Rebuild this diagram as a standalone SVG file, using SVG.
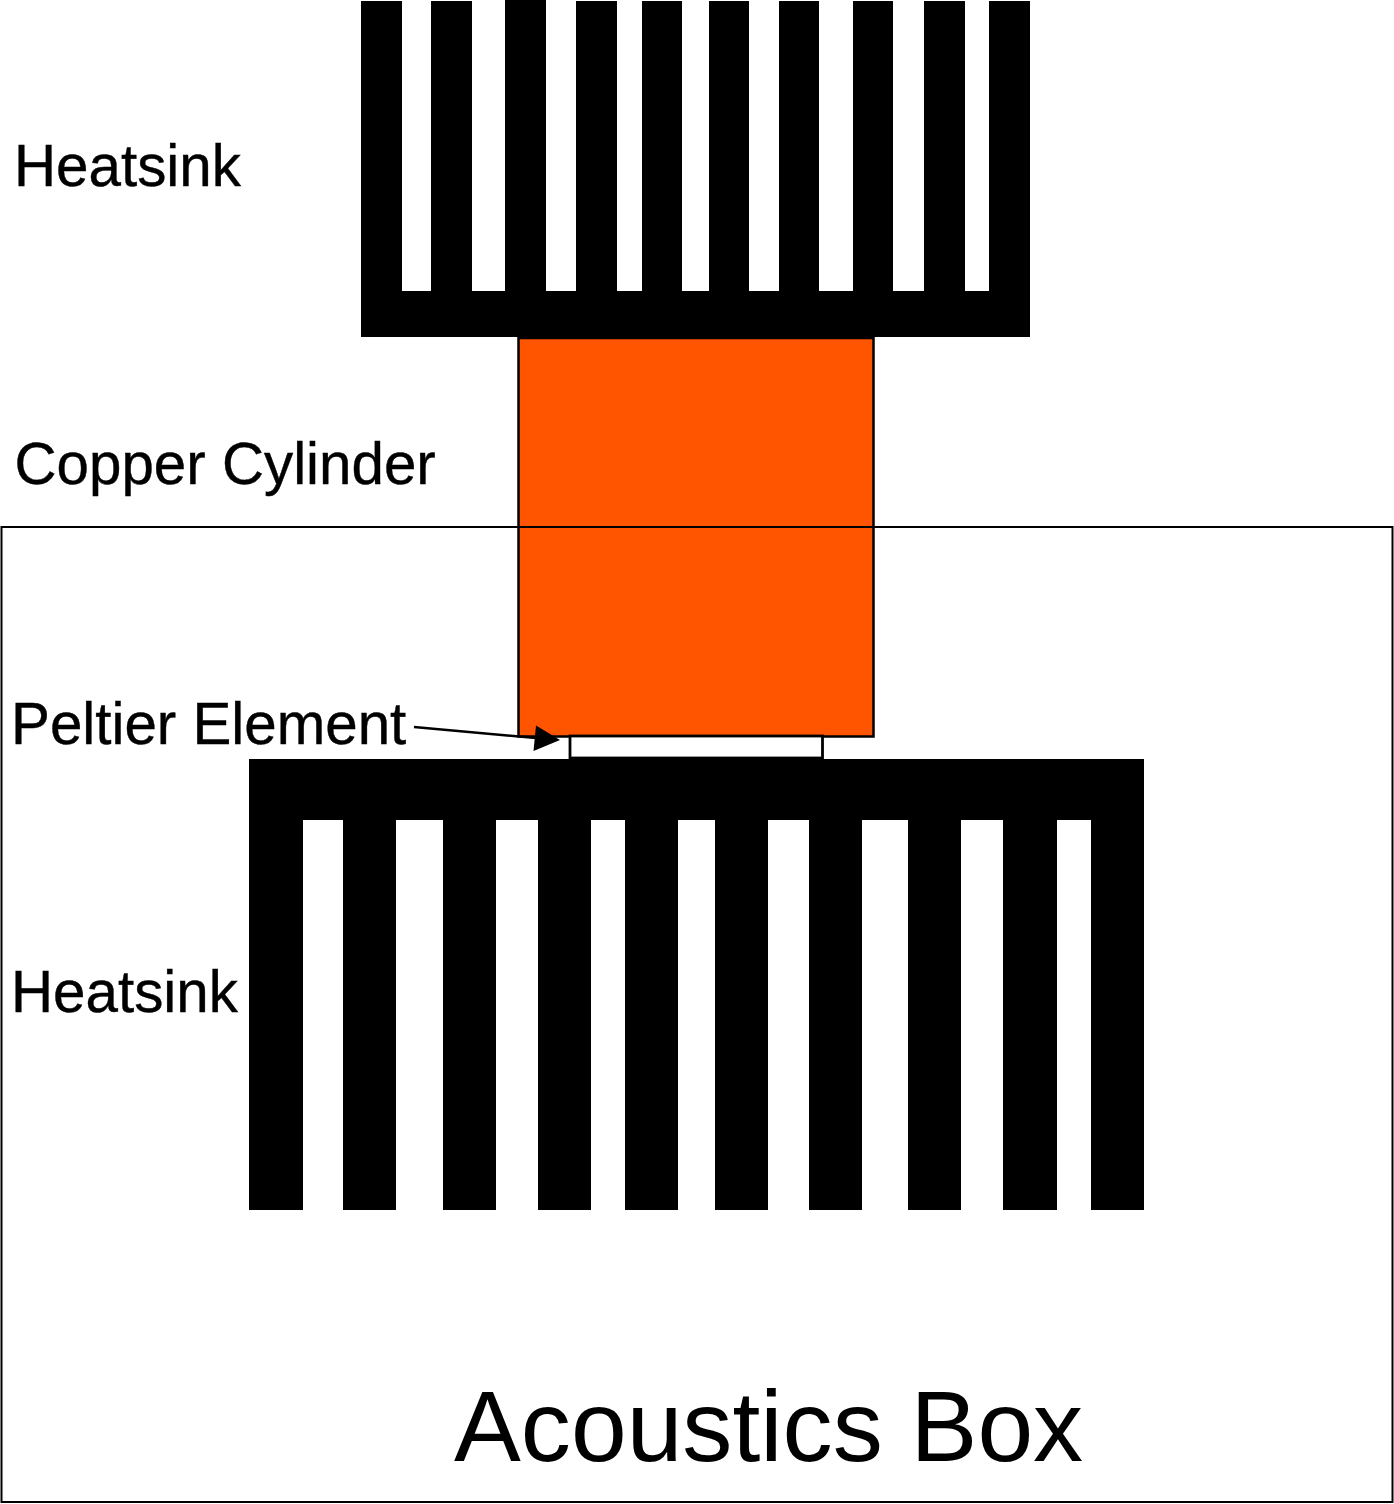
<svg xmlns="http://www.w3.org/2000/svg" width="1394" height="1504" viewBox="0 0 1394 1504">
<style>
.l{font-family:"Liberation Sans",Arial,sans-serif;font-size:58.300px;fill:#000;stroke:#000;stroke-width:.4}
.k{fill:#000}
.o{fill:none;stroke:#000;stroke-width:2}
</style>
<rect width="1394" height="1504" fill="#fff"/>
<g id="acoustics-box"><rect class="o" x="1.500" y="527" width="1391" height="975"/>
<text x="454" y="1461" style="font-family:'Liberation Sans',Arial,sans-serif;font-size:100.200px">Acoustics Box</text></g>
<g id="top-heatsink" class="k">
<rect x="361" y="291" width="669" height="46"/>
<rect x="361" y="1" width="41" height="291"/><rect x="431" y="1" width="41" height="291"/><rect x="505" y="0" width="41" height="292"/><rect x="576" y="1" width="41" height="291"/><rect x="642" y="1" width="40" height="291"/><rect x="709" y="1" width="40" height="291"/><rect x="779" y="1" width="40" height="291"/><rect x="853" y="1" width="40" height="291"/><rect x="924" y="1" width="41" height="291"/><rect x="989" y="1" width="41" height="291"/>
</g>
<g id="copper-cylinder"><rect x="518.500" y="338" width="355" height="398.500" fill="#ff5500" stroke="#000" stroke-width="2.500"/><path class="o" d="M518 527H874"/></g>
<g id="peltier-element"><rect x="570" y="736" width="252.500" height="22" fill="#fff" stroke="#000" stroke-width="2.800"/></g>
<g id="bottom-heatsink" class="k">
<rect x="249" y="759" width="895" height="61"/>
<rect x="249" y="815" width="54" height="395"/><rect x="343" y="815" width="53" height="395"/><rect x="443" y="815" width="53" height="395"/><rect x="538" y="815" width="53" height="395"/><rect x="625" y="815" width="53" height="395"/><rect x="715" y="815" width="53" height="395"/><rect x="809" y="815" width="53" height="395"/><rect x="908" y="815" width="53" height="395"/><rect x="1003" y="815" width="54" height="395"/><rect x="1091" y="815" width="53" height="395"/>
</g>
<g id="connectors"><path d="M414 727L536 738" stroke="#000" stroke-width="2.500" fill="none"/><path d="M560 740L533.500 751L536 725.500Z" class="k"/></g>
<g id="labels">
<text class="l" x="14" y="186">Heatsink</text>
<text class="l" x="14.500" y="484">Copper Cylinder</text>
<text class="l" x="11" y="744">Peltier Element</text>
<text class="l" x="11" y="1012">Heatsink</text>
</g>
</svg>
